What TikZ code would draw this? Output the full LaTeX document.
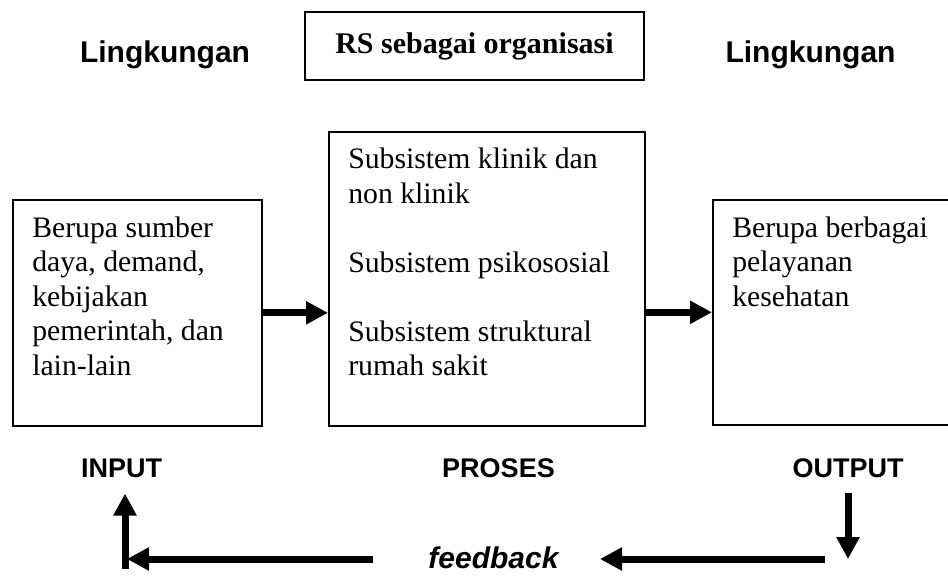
\documentclass[tikz,border=0pt]{standalone}
\usepackage{fontspec}
\setmainfont{Liberation Serif}
\setsansfont{Liberation Sans}
\usetikzlibrary{arrows.meta, positioning}
\tikzstyle{sysbox}=[draw, line width=1.2pt, inner sep=0pt, anchor=north west]
\tikzstyle{boxtext}=[inner sep=0pt, align=left, font=\fontsize{22.3pt}{25.9pt}\selectfont]
\tikzstyle{heading}=[anchor=base, inner sep=0pt, font=\sffamily\bfseries\fontsize{22.5pt}{27pt}\selectfont]
\tikzstyle{stage}=[anchor=base, inner sep=0pt, font=\sffamily\bfseries\fontsize{20.25pt}{24pt}\selectfont]
\tikzstyle{flow}=[line width=5.25pt, -{Triangle[length=16.5pt, width=16.5pt]}]

\begin{document}
\begin{tikzpicture}[x=0.75pt, y=-0.75pt]
  \path[use as bounding box, clip] (0,0) rectangle (948,575);
  \node[draw, line width=1.2pt, minimum width=254pt, minimum height=51pt, font=\bfseries\fontsize{22.5pt}{27pt}\selectfont] (title) at (474.5,46) {RS sebagai organisasi};
  \node[heading] (envL) at (165,62) {Lingkungan};
  \node[heading] (envR) at (810.5,62) {Lingkungan};
  \node[sysbox, minimum width=186.75pt, minimum height=169.5pt] (inbox) at (12,199) {};
  \node[sysbox, minimum width=237pt, minimum height=220.5pt] (procbox) at (328,131) {};
  \node[sysbox, minimum width=225pt, minimum height=168.75pt] (outbox) at (712,199) {};
  \node[boxtext, below right=13pt and 15pt of inbox.north west] (intext) {Berupa sumber\\daya, demand,\\kebijakan\\pemerintah, dan\\lain-lain};
  \node[boxtext, below right=12.5pt and 15pt of procbox.north west] (proctext) {Subsistem klinik dan\\non klinik\\[25.9pt]Subsistem psikososial\\[25.9pt]Subsistem struktural\\rumah sakit};
  \node[boxtext, below right=13pt and 15pt of outbox.north west] (outtext) {Berupa berbagai\\pelayanan\\kesehatan};
  \node[stage] (inlbl) at (121.5,477) {INPUT};
  \node[stage] (proclbl) at (498.5,477) {PROSES};
  \node[stage] (outlbl) at (848,477) {OUTPUT};
  \node[anchor=base, inner sep=0pt, font=\sffamily\bfseries\itshape\fontsize{22.5pt}{27pt}\selectfont] (fb) at (493.5,568) {feedback};
  % feedback loop ends
  \coordinate (fbR) at (848,559);
  \coordinate (rA) at (825,559);
  \coordinate (rB) at (600,559);
  \coordinate (lA) at (373,559);
  \coordinate (lB) at (127,559);
  \coordinate (lC) at (125,569);
  \draw[flow] (inbox.east) -- (inbox.east -| procbox.west);
  \draw[flow] (outbox.west -| procbox.east) -- (outbox.west);
  \draw[flow, shorten <=11.25pt] (outlbl.south) -- (fbR);
  \draw[flow] (rA) -- (rB);
  \draw[flow] (lA) -- (lB);
  \draw[flow, shorten >=12pt] (lC) -- (inlbl.south -| lC);
\end{tikzpicture}
\end{document}
